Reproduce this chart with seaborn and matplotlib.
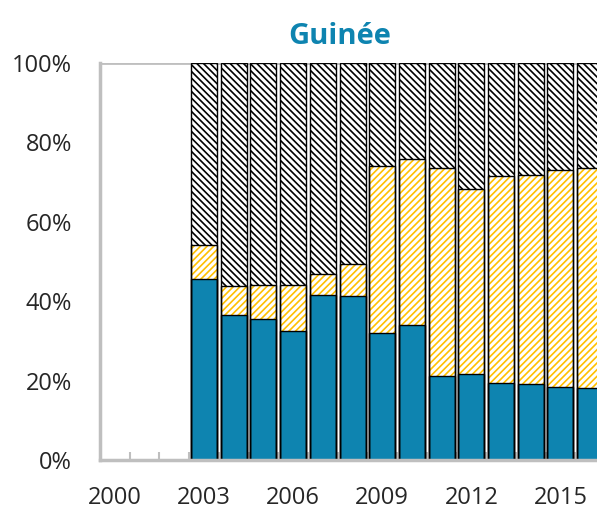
import numpy as np
import pandas as pd
import seaborn as sns
import matplotlib
matplotlib.use("Agg")
import matplotlib.pyplot as plt
from matplotlib.ticker import FixedLocator

years = list(range(2000, 2017))
part_bleu = [np.nan, np.nan, np.nan, 45.5, 36.5, 35.5, 32.5, 41.6, 41.2,
             32.0, 33.9, 21.2, 21.6, 19.3, 19.1, 18.5, 18.1]
part_jaune = [np.nan, np.nan, np.nan, 8.7, 7.4, 8.7, 11.6, 5.3, 8.1,
              42.1, 41.9, 52.4, 46.7, 52.2, 52.6, 54.5, 55.4]
tick_labels = ['2000', '2003', '2006', '2009', '2012', '2015']

BLEU = '#0E84B0'
JAUNE = '#FFC000'
GRIS = '#BFBFBF'

df = pd.DataFrame({'annee': [str(a) for a in years],
                   'bleu': part_bleu, 'jaune': part_jaune})
df['cumul_jaune'] = df['bleu'] + df['jaune']
df['total'] = np.where(df['bleu'].notna(), 100.0, np.nan)
ordre = [str(a) for a in years]

sns.set_style('white')
plt.rcParams['font.family'] = ['Open Sans', 'DejaVu Sans']
plt.rcParams['hatch.linewidth'] = 1.2

fig = plt.figure(figsize=(5.97, 5.12), dpi=100)
ax = fig.add_axes([100 / 597, 52 / 512, 497 / 597, 397 / 512])

ax.axhline(100, color=GRIS, lw=2, zorder=0)

w = 0.875
d = df.dropna()
sns.barplot(data=d, x='annee', y='total', order=ordre, color='white',
            edgecolor='black', hatch='\\' * 5, linewidth=0, width=w,
            saturation=1, errorbar=None, ax=ax)
sns.barplot(data=d, x='annee', y='cumul_jaune', order=ordre, color='white',
            edgecolor=JAUNE, hatch='/' * 5, linewidth=0, width=w,
            saturation=1, errorbar=None, ax=ax)
sns.barplot(data=d, x='annee', y='bleu', order=ordre, color=BLEU,
            linewidth=0, width=w, saturation=1, errorbar=None, ax=ax)
for col in ['total', 'cumul_jaune', 'bleu']:
    sns.barplot(data=d, x='annee', y=col, order=ordre, fill=False,
                color='black', linewidth=1, width=w, errorbar=None, ax=ax)

ax.set_xlim(-0.5, 16.23)
ax.set_ylim(0, 100)
ax.set_yticks(range(0, 101, 20))
ax.set_yticklabels([f'{v}%' for v in range(0, 101, 20)])
ax.set_xticks([ordre.index(t) for t in tick_labels])
ax.set_xticklabels(tick_labels)
ax.xaxis.set_minor_locator(FixedLocator(np.arange(0.5, 16, 1)))
ax.tick_params(axis='x', which='major', bottom=True, length=0, pad=19,
               labelsize=17)
ax.tick_params(axis='x', which='minor', bottom=True, direction='in',
               length=6, width=1.5, color=GRIS)
ax.tick_params(axis='y', length=0, pad=20, labelsize=17)
ax.set_xlabel('')
ax.set_ylabel('')

for s in ['top', 'right']:
    ax.spines[s].set_visible(False)
for s in ['left', 'bottom']:
    ax.spines[s].set_color(GRIS)
    ax.spines[s].set_linewidth(2.5)

ax.set_title('Guinée', color=BLEU, fontsize=21, fontweight='bold', pad=14,
             x=0.483)

fig.savefig('out.png', dpi=100)
